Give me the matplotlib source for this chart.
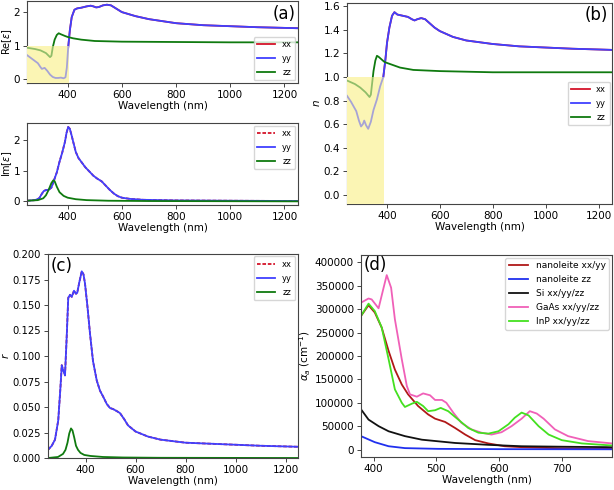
import matplotlib
matplotlib.use("Agg")
import matplotlib.pyplot as plt
from matplotlib.patches import Rectangle

plt.rcParams['font.family'] = ['DejaVu Sans']
plt.rcParams['font.size'] = 7.5

# ---------------- Panel (a) top: Re[eps] ----------------
wl_re_yy = [250, 270, 290, 300, 305, 315, 325, 335, 345, 355, 365, 375, 385, 392, 397, 402, 408, 415,
            425, 435, 450, 470, 485, 495, 505, 515, 530, 545, 560, 580, 600, 650, 700, 800, 900, 1000,
            1100, 1250]
re_yy = [0.72, 0.60, 0.48, 0.36, 0.31, 0.34, 0.25, 0.14, 0.07, 0.04, 0.04, 0.05, 0.03, 0.06, 0.35, 0.95,
         1.45, 1.85, 2.07, 2.11, 2.13, 2.17, 2.19, 2.17, 2.14, 2.15, 2.20, 2.22, 2.20, 2.10, 2.00, 1.88,
         1.79, 1.67, 1.61, 1.58, 1.55, 1.52]
wl_re_zz = [250, 280, 300, 320, 335, 340, 345, 352, 360, 367, 375, 390, 400, 420, 450, 500, 600, 800,
            1000, 1250]
re_zz = [0.94, 0.90, 0.86, 0.78, 0.66, 0.70, 0.95, 1.18, 1.32, 1.37, 1.34, 1.29, 1.26, 1.22, 1.18, 1.14,
         1.12, 1.11, 1.10, 1.10]
re_cut = 404  # edge of shaded region (Re<1)

# ---------------- Panel (a) bottom: Im[eps] ----------------
wl_im_yy = [250, 280, 295, 305, 312, 320, 330, 340, 350, 360, 370, 380, 390, 396, 402, 408, 415, 422,
            430, 440, 450, 465, 480, 495, 510, 525, 540, 555, 570, 585, 600, 630, 680, 800, 1000, 1250]
im_yy = [0.02, 0.04, 0.10, 0.25, 0.34, 0.37, 0.38, 0.45, 0.70, 0.95, 1.30, 1.60, 1.95, 2.25, 2.44, 2.38,
         2.15, 1.90, 1.62, 1.42, 1.30, 1.12, 0.98, 0.84, 0.74, 0.66, 0.52, 0.38, 0.26, 0.17, 0.12, 0.08,
         0.05, 0.03, 0.02, 0.01]
wl_im_zz = [250, 290, 310, 320, 330, 340, 347, 352, 360, 370, 385, 400, 430, 470, 550, 700, 1250]
im_zz = [0.02, 0.04, 0.10, 0.20, 0.38, 0.60, 0.69, 0.66, 0.48, 0.30, 0.18, 0.12, 0.07, 0.04, 0.02, 0.01, 0.0]

# ---------------- Panel (b): n ----------------
wl_n_yy = [250, 265, 285, 295, 303, 310, 315, 322, 330, 340, 350, 363, 375, 387, 395, 401, 410, 420, 429,
           440, 460, 480, 495, 505, 515, 530, 545, 560, 580, 600, 650, 700, 800, 900, 1000, 1100, 1250]
n_yy = [0.84, 0.79, 0.71, 0.63, 0.58, 0.60, 0.63, 0.59, 0.56, 0.62, 0.72, 0.81, 0.92, 1.00, 1.15, 1.29,
        1.42, 1.52, 1.55, 1.53, 1.52, 1.51, 1.49, 1.48, 1.49, 1.50, 1.49, 1.46, 1.42, 1.39, 1.34, 1.31,
        1.28, 1.26, 1.25, 1.24, 1.23]
wl_n_zz = [250, 280, 300, 320, 335, 340, 345, 350, 357, 363, 370, 380, 390, 400, 450, 500, 600, 800,
           1000, 1250]
n_zz = [0.97, 0.94, 0.91, 0.87, 0.83, 0.85, 0.95, 1.05, 1.14, 1.18, 1.17, 1.15, 1.13, 1.12, 1.08, 1.06,
        1.05, 1.04, 1.04, 1.04]
n_cut = 388  # edge of shaded region (n<1)

# ---------------- Panel (c): r ----------------
wl_r_yy = [250, 265, 278, 291, 300, 305, 312, 318, 325, 331, 338, 345, 354, 362, 367, 375, 385, 392, 398,
           408, 418, 430, 445, 458, 471, 485, 498, 510, 525, 538, 555, 570, 585, 600, 650, 700, 800, 900,
           1000, 1100, 1250]
r_yy = [0.008, 0.012, 0.018, 0.037, 0.070, 0.091, 0.085, 0.081, 0.120, 0.157, 0.160, 0.158, 0.164, 0.161,
        0.162, 0.172, 0.183, 0.180, 0.171, 0.148, 0.122, 0.095, 0.076, 0.066, 0.060, 0.053, 0.049, 0.048,
        0.046, 0.044, 0.038, 0.032, 0.029, 0.026, 0.021, 0.018, 0.015, 0.014, 0.013, 0.012, 0.011]
wl_r_zz = [250, 290, 310, 320, 328, 335, 342, 348, 355, 362, 370, 380, 395, 420, 470, 550, 700, 1250]
r_zz = [0.0, 0.001, 0.004, 0.008, 0.015, 0.024, 0.029, 0.027, 0.020, 0.012, 0.008, 0.005, 0.003, 0.002,
        0.001, 0.0005, 0.0002, 0.0]

# ---------------- Panel (d): absorption ----------------
wl_nano_xy = [380, 392, 402, 413, 424, 434, 445, 455, 471, 487, 498, 514, 530, 546, 562, 583, 609, 636,
              700, 780]
a_nano_xy = [285700, 308600, 293000, 260700, 210700, 171000, 139000, 118000, 93000, 75000, 66000,
             59000, 46000, 32000, 20000, 13000, 7000, 5000, 2500, 1500]
wl_nano_z = [380, 402, 424, 450, 503, 600, 780]
a_nano_z = [28600, 15700, 7000, 3000, 1400, 800, 500]
wl_si = [380, 392, 408, 424, 450, 477, 530, 583, 636, 700, 780]
a_si = [86000, 64000, 50000, 39000, 28600, 21000, 14000, 10000, 7000, 6000, 5000]
wl_gaas = [380, 392, 397, 408, 416, 421, 428, 434, 445, 453, 458, 469, 479, 490, 498, 509, 516, 527, 540,
           556, 572, 588, 604, 620, 636, 649, 660, 671, 689, 710, 742, 780]
a_gaas = [314000, 323000, 321000, 302000, 346000, 373000, 346000, 278600, 193000, 136000, 118000,
          113000, 120000, 116000, 106000, 106000, 100000, 79000, 57000, 43000, 36000, 32000, 37000,
          50000, 66000, 82000, 77000, 66000, 43000, 28600, 18000, 13000]
wl_inp = [380, 392, 402, 413, 424, 434, 445, 450, 461, 469, 479, 487, 498, 507, 519, 535, 551, 567, 583,
          599, 615, 625, 636, 647, 663, 679, 700, 732, 780]
a_inp = [285700, 312000, 296000, 261000, 193000, 128600, 100000, 91000, 98000, 102000, 93000, 82000,
         84000, 89000, 82000, 64000, 46000, 36000, 34000, 39000, 54000, 68000, 79000, 73000, 50000,
         32000, 20000, 13000, 8600]

C_RED = '#d4142a'
C_BLUE = '#4040ff'
C_GREEN = '#0f7a0f'
SHADE = '#fbf5b4'

W, H = 614, 490
fig = plt.figure(figsize=(W / 100, H / 100), dpi=100)


def add_ax(l, r, t, b):
    return fig.add_axes([l / W, 1 - b / H, (r - l) / W, (b - t) / H])


def style(ax):
    for s in ax.spines.values():
        s.set_color('#444444')
        s.set_linewidth(0.8)
    ax.tick_params(length=3, width=0.7, color='#444444', pad=2, labelsize=7.5)


def ylab_at(ax, text, px_right, left, width, size=7.5):
    ax.set_ylabel(text, fontsize=size)
    ax.yaxis.set_label_coords((px_right - left) / width, 0.5)


def shade(ax, x1, y0, series):
    # opaque pale-yellow box, then the curves redrawn faintly inside it
    rect = Rectangle((250, y0), x1 - 250, 1 - y0, facecolor=SHADE, edgecolor='none', zorder=5)
    ax.add_patch(rect)
    for xs, ys, c in series:
        ln, = ax.plot(xs, ys, color=c, lw=lw, alpha=0.45, zorder=6)
        ln.set_clip_path(rect)


lw = 1.3
leg_kw = dict(fontsize=6, handlelength=2.2, borderaxespad=0.3, labelspacing=0.6)

# (a) top
ax1 = add_ax(27, 298, 1, 83)
ax1.plot(wl_re_yy, re_yy, color=C_RED, lw=lw, label='xx')
ax1.plot(wl_re_yy, re_yy, color=C_BLUE, lw=lw, label='yy')
ax1.plot(wl_re_zz, re_zz, color=C_GREEN, lw=lw, label='zz')
ax1.set_xlim(250, 1250)
ax1.set_ylim(-0.11, 2.33)
shade(ax1, re_cut, -0.11, [(wl_re_yy, re_yy, C_BLUE), (wl_re_zz, re_zz, C_GREEN)])
ax1.set_yticks([0, 1, 2])
ax1.set_xticks([400, 600, 800, 1000, 1200])
ylab_at(ax1, r'Re[$\epsilon$]', 14, 27, 271, size=7)
ax1.set_xlabel('Wavelength (nm)', labelpad=1)
ax1.text(0.99, 0.95, '(a)', transform=ax1.transAxes, ha='right', va='top', fontsize=12)
ax1.legend(loc='lower right', **leg_kw).set_zorder(10)
style(ax1)

# (a) bottom
ax2 = add_ax(27, 298, 123, 205)
ax2.plot(wl_im_yy, im_yy, color=C_RED, lw=lw, ls=(0, (2, 1)), label='xx')
ax2.plot(wl_im_yy, im_yy, color=C_BLUE, lw=lw, label='yy')
ax2.plot(wl_im_zz, im_zz, color=C_GREEN, lw=lw, label='zz')
ax2.set_xlim(250, 1250)
ax2.set_ylim(-0.12, 2.57)
ax2.set_yticks([0, 1, 2])
ax2.set_xticks([400, 600, 800, 1000, 1200])
ylab_at(ax2, r'Im[$\epsilon$]', 14, 27, 271, size=7)
ax2.set_xlabel('Wavelength (nm)', labelpad=1)
ax2.legend(loc='upper right', **leg_kw)
style(ax2)

# (b)
ax3 = add_ax(347, 612, 3, 204)
ax3.plot(wl_n_yy, n_yy, color=C_RED, lw=lw, label='xx')
ax3.plot(wl_n_yy, n_yy, color=C_BLUE, lw=lw, label='yy')
ax3.plot(wl_n_zz, n_zz, color=C_GREEN, lw=lw, label='zz')
ax3.set_xlim(250, 1250)
ax3.set_ylim(-0.078, 1.628)
shade(ax3, n_cut, -0.078, [(wl_n_yy, n_yy, C_BLUE), (wl_n_zz, n_zz, C_GREEN)])
ax3.set_yticks([0.0, 0.2, 0.4, 0.6, 0.8, 1.0, 1.2, 1.4, 1.6])
ax3.set_xticks([400, 600, 800, 1000, 1200])
ylab_at(ax3, r'$n$', 322, 347, 265)
ax3.set_xlabel('Wavelength (nm)', labelpad=1)
ax3.text(0.985, 0.985, '(b)', transform=ax3.transAxes, ha='right', va='top', fontsize=12)
ax3.legend(loc='center right', **leg_kw)
style(ax3)

# (c)
ax4 = add_ax(48, 298, 254, 458)
ax4.plot(wl_r_yy, r_yy, color=C_RED, lw=lw, ls=(0, (2, 1)), label='xx')
ax4.plot(wl_r_yy, r_yy, color=C_BLUE, lw=lw, label='yy')
ax4.plot(wl_r_zz, r_zz, color=C_GREEN, lw=lw, label='zz')
ax4.set_xlim(250, 1250)
ax4.set_ylim(0, 0.2)
ax4.set_yticks([0.0, 0.025, 0.05, 0.075, 0.1, 0.125, 0.15, 0.175, 0.2])
ax4.set_yticklabels(['0.000', '0.025', '0.050', '0.075', '0.100', '0.125', '0.150', '0.175', '0.200'])
ax4.set_xticks([400, 600, 800, 1000, 1200])
ylab_at(ax4, r'$r$', 11, 48, 250)
ax4.set_xlabel('Wavelength (nm)', labelpad=1)
ax4.text(0.01, 0.985, '(c)', transform=ax4.transAxes, ha='left', va='top', fontsize=12)
ax4.legend(loc='upper right', **leg_kw)
style(ax4)
ax4.tick_params(axis='y', labelsize=7.2)

# (d)
ax5 = add_ax(361, 612, 255, 457)
ax5.plot(wl_nano_xy, a_nano_xy, color='#b01818', lw=lw, label='nanoleite xx/yy')
ax5.plot(wl_nano_z, a_nano_z, color='#2030ee', lw=lw, label='nanoleite zz')
ax5.plot(wl_si, a_si, color='#111111', lw=lw, label='Si xx/yy/zz')
ax5.plot(wl_gaas, a_gaas, color='#f060b8', lw=lw, label='GaAs xx/yy/zz')
ax5.plot(wl_inp, a_inp, color='#44e020', lw=lw, label='InP xx/yy/zz')
ax5.set_xlim(380, 780)
ax5.set_ylim(-16000, 416000)
ax5.set_yticks([0, 50000, 100000, 150000, 200000, 250000, 300000, 350000, 400000])
ax5.set_xticks([400, 500, 600, 700])
ylab_at(ax5, r'$\alpha_a$ (cm$^{-1}$)', 313, 361, 251)
ax5.set_xlabel('Wavelength (nm)', labelpad=1)
ax5.text(0.01, 0.995, '(d)', transform=ax5.transAxes, ha='left', va='top', fontsize=12)
ax5.legend(loc='upper right', fontsize=6.5, handlelength=2.2, borderaxespad=0.3, labelspacing=0.55)
style(ax5)

fig.savefig('out.png', dpi=100)
